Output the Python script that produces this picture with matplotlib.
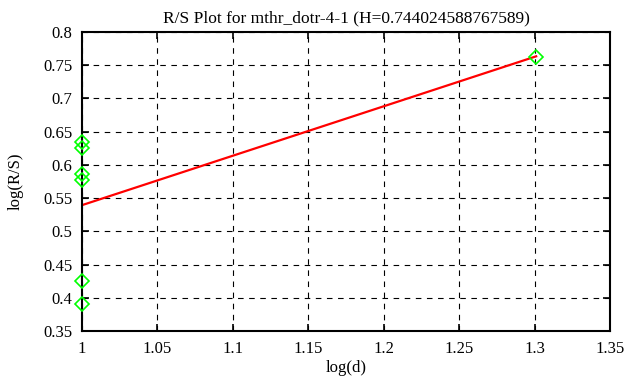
import numpy as np
import matplotlib
matplotlib.use("Agg")
from matplotlib import pyplot as plt

# data
log_d = [1.0, 1.0, 1.0, 1.0, 1.0, 1.0, 1.30103]
log_rs = [0.634, 0.626, 0.586, 0.577, 0.425, 0.390, 0.762]
H = 0.744024588767589
title = "R/S Plot for mthr_dotr-4-1 (H=%.15f)" % H

xticks = [1, 1.05, 1.1, 1.15, 1.2, 1.25, 1.3, 1.35]
yticks = [0.35, 0.4, 0.45, 0.5, 0.55, 0.6, 0.65, 0.7, 0.75, 0.8]

plt.rcParams["font.family"] = ["Liberation Serif", "DejaVu Serif"]
plt.rcParams["font.size"] = 12

fig = plt.figure(figsize=(6.31, 3.87), dpi=100)
ax = fig.add_axes([0.130, 0.1447, 0.8368, 0.7726])

x = np.array(log_d)
y = np.array(log_rs)
b = np.mean(y) - H * np.mean(x)
xl = np.array([x.min(), x.max()])

ax.plot(x, y, "D", mfc="none", mec="#00ff00", ms=7, mew=1.2, zorder=3,
        clip_on=False)
ax.plot(xl, H * xl + b, c="#ff0000", lw=1.6, zorder=2)

ax.set_xlim(1, 1.35)
ax.set_ylim(0.35, 0.8)
ax.set_xticks(xticks)
ax.set_yticks(yticks)
ax.set_xticklabels([("%g" % t) for t in xticks])
ax.set_yticklabels([("%g" % t) for t in yticks])
ax.grid(True, ls=(0, (5, 5)), c="k", lw=0.8)
ax.tick_params(direction="in", top=True, right=True, length=5, width=1.2)
ax.tick_params(axis="x", pad=7)
ax.tick_params(axis="y", pad=7)
for s in ax.spines.values():
    s.set_linewidth(1.5)

ax.set_xlabel("log(d)", labelpad=2)
ax.set_ylabel("log(R/S)", labelpad=14)
ax.set_title(title, pad=7, fontsize=12.5)

plt.savefig("out.png", dpi=100)
